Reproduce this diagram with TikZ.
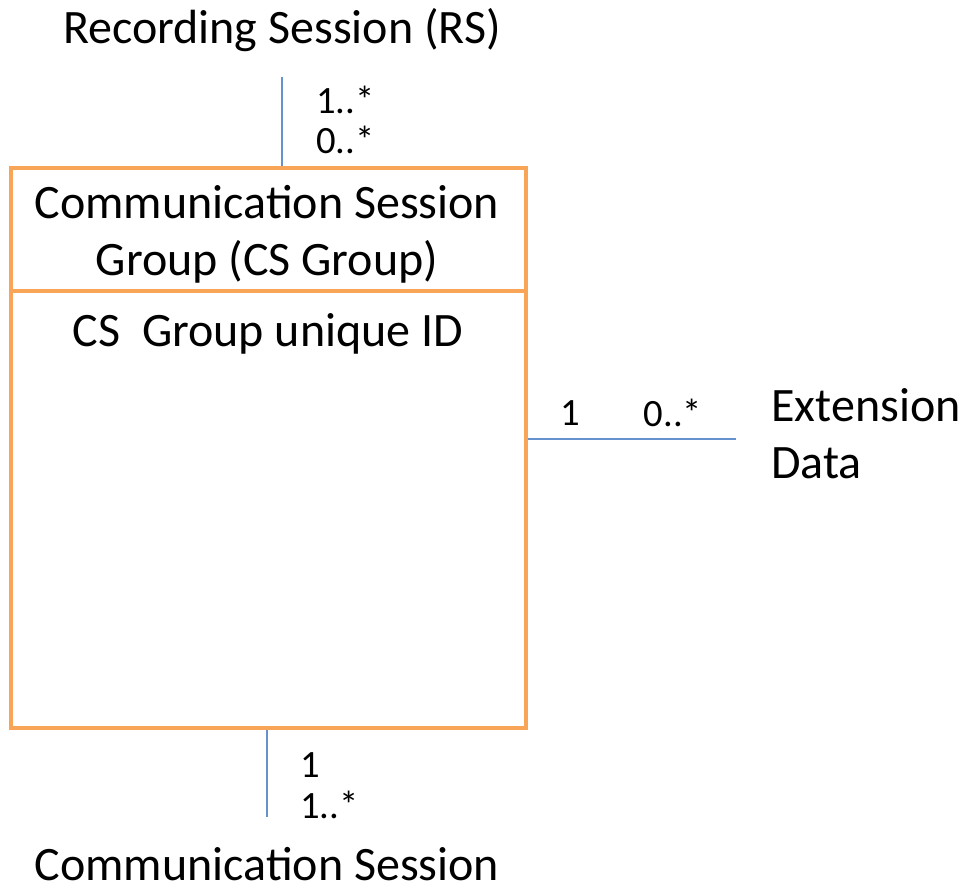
\documentclass[tikz,border=0pt]{standalone}
\usepackage{fontspec}
\setmainfont{Carlito}
\usetikzlibrary{positioning}
\definecolor{boxorange}{HTML}{F9A557}
\definecolor{linkblue}{HTML}{6592CC}

\begin{document}
\begin{tikzpicture}[x=0.75pt, y=-0.75pt,
        classbox/.style={rectangle, draw=boxorange, line width=3pt, minimum width=386pt, inner sep=0pt},
        link/.style={draw=linkblue, line width=1pt},
        bigtext/.style={inner sep=0pt, font=\fontsize{36}{42.75}\selectfont},
        mult/.style={inner sep=0pt, font=\fontsize{29}{30}\selectfont}
    ]
        \useasboundingbox (0,0) rectangle (961,892);

        % Class box: header and body
        \node[classbox, minimum height=92pt, anchor=north west] (hdr) at (9,166) {};
        \node[classbox, minimum height=328pt, anchor=north west] (body) at (9,289) {};
        \node[bigtext, align=center] (title) at (267,234) {Communication Session\\Group (CS Group)};
        \node[bigtext] (attr) at (268,334) {CS\ \ Group unique ID};

        % Related classes
        \node[bigtext] (rs) at (282,30) {Recording Session (RS)};
        \node[bigtext] (cs) at (267,864) {Communication Session};
        \node[bigtext, anchor=west, align=left] (ext) at (771,434) {Extension\\Data};

        % Connector ends
        \coordinate (rsend) at (282,77);
        \coordinate (csend) at (267,817);
        \coordinate (extend) at (736,439);

        % Connections
        \draw[link] (rsend) -- (rsend |- hdr.north);
        \draw[link] (body.south -| csend) -- (csend);
        \draw[link] (body.east |- extend) -- (extend);

        % Multiplicities
        \node[mult, anchor=west] (rsone) at (316,100) {1..*};
        \node[mult, anchor=west] (rszero) at (316,140) {0..*};
        \node[mult, anchor=west] (csone) at (300,765) {1};
        \node[mult, anchor=west] (csmany) at (300,805) {1..*};
        \node[mult] (extone) at (570,413) {1};
        \node[mult] (extmany) at (673,413) {0..*};

    \end{tikzpicture}
\end{document}
